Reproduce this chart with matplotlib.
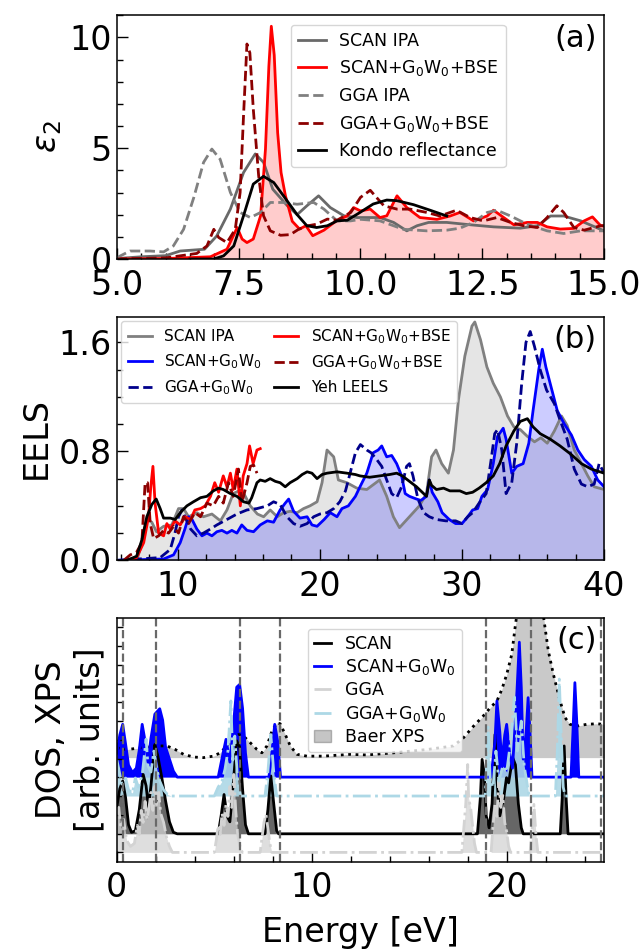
#!/usr/bin/env python3

import matplotlib
matplotlib.use("Agg")
import matplotlib.pyplot as plt
from matplotlib.lines import Line2D
from matplotlib.patches import Patch
from matplotlib.ticker import MultipleLocator

# ---------------- panel (a): eps2 ----------------
a_scan_ipa_x = [5.0, 5.5, 6.0, 6.3, 6.8, 7.05, 7.33, 7.6, 7.84, 8.01, 8.2, 8.5, 8.7, 8.9,
                9.14, 9.38, 9.66, 9.93, 10.2, 10.4, 10.68, 10.95, 11.16, 11.4, 11.77, 12.27,
                12.73, 13.28, 13.63, 13.9, 14.17, 14.52, 15.0]
a_scan_ipa_y = [0.02, 0.1, 0.15, 0.36, 0.44, 1.04, 2.25, 3.9, 4.74, 4.36, 3.15, 2.4, 2.0, 2.4,
                2.85, 2.32, 1.95, 1.87, 1.87, 1.87, 1.65, 1.27, 1.5, 1.65, 1.65, 1.54,
                1.45, 1.39, 1.5, 1.94, 1.94, 1.72, 1.27]

a_scan_bse_x = [5.0, 6.0, 6.92, 7.26, 7.47, 7.57, 7.67, 7.8, 7.95, 8.05, 8.12, 8.17, 8.23,
                8.3, 8.37, 8.46, 8.6, 8.75, 8.88, 9.02, 9.25, 9.49, 9.73, 9.86, 10.0, 10.2,
                10.4, 10.54, 10.75, 10.95, 11.22, 11.57, 11.84, 12.04, 12.32, 12.6, 12.73,
                12.94, 13.15, 13.42, 13.63, 13.83, 14.1, 14.38, 14.59, 14.76, 14.93, 15.0]
a_scan_bse_y = [0.0, 0.02, 0.1, 0.44, 1.42, 0.9, 0.74, 0.9, 1.95, 4.96, 8.7, 10.5, 9.2,
                5.7, 3.9, 2.85, 1.7, 1.35, 1.5, 1.05, 1.3, 1.7, 1.95, 2.32, 2.17, 2.25,
                1.87, 1.95, 2.85, 2.32, 1.87, 1.79, 1.94, 2.1, 1.72, 1.94, 2.2,
                1.87, 1.54, 1.65, 1.65, 1.45, 1.35, 1.38, 1.72, 1.9, 1.5, 1.5]

a_gga_ipa_x = [5.0, 5.27, 5.68, 5.96, 6.16, 6.37, 6.58, 6.78, 6.95, 7.12, 7.33, 7.53, 7.74,
               7.95, 8.15, 8.42, 8.7, 9.04, 9.25, 9.52, 9.8, 10.0, 10.4, 10.88, 11.36, 11.77,
               12.04, 12.32, 12.6, 12.8, 13.08, 13.42, 13.83, 14.17, 14.52, 14.93, 15.0]
a_gga_ipa_y = [0.06, 0.36, 0.36, 0.32, 0.59, 1.34, 2.78, 4.36, 4.96, 4.5, 3.0, 2.1, 1.87,
               2.1, 2.55, 2.55, 2.47, 2.55, 2.25, 1.72, 1.72, 1.79, 1.72, 1.34, 1.27, 1.3,
               1.39, 1.65, 2.1, 2.2, 1.94, 1.57, 1.27, 1.15, 1.27, 1.27, 1.27]

a_gga_bse_x = [5.0, 6.0, 6.64, 6.85, 6.99, 7.09, 7.26, 7.43, 7.53, 7.6, 7.67, 7.73, 7.8,
               7.91, 8.01, 8.15, 8.36, 8.56, 8.73, 8.9, 9.1, 9.32, 9.52, 9.8, 10.0, 10.2,
               10.48, 10.75, 11.02, 11.36, 11.63, 11.97, 12.25, 12.52, 12.8, 13.08, 13.35,
               13.63, 13.83, 14.03, 14.17, 14.38, 14.59, 14.93, 15.0]
a_gga_bse_y = [0.0, 0.05, 0.25, 0.59, 1.34, 0.97, 0.74, 1.34, 3.0, 6.47, 9.7, 9.3, 6.77,
               3.76, 1.95, 1.27, 1.07, 1.1, 1.34, 1.49, 1.57, 1.8, 1.75, 2.1, 2.78, 3.1,
               2.4, 2.25, 2.25, 2.1, 1.94, 2.2, 1.87, 1.72, 1.87, 1.65, 1.5,
               1.42, 1.87, 2.4, 2.1, 1.42, 1.3, 1.5, 1.5]

a_kondo_x = [6.5, 6.99, 7.19, 7.4, 7.6, 7.8, 8.01, 8.22, 8.42, 8.7, 8.9, 9.1, 9.32, 9.52,
             9.73, 9.99, 10.26, 10.54, 10.75, 11.09, 11.43, 11.77]
a_kondo_y = [0.0, 0.0, 0.14, 0.59, 1.95, 3.38, 3.73, 3.45, 2.85, 2.0, 1.5, 1.42, 1.5, 1.72,
             1.75, 2.1, 2.48, 2.66, 2.63, 2.45, 2.2, 1.94]

# ---------------- panel (b): EELS ----------------
b_scan_ipa_x = [5.71, 7.1, 7.35, 7.82, 8.17, 8.5, 9.0, 9.58, 10.05, 10.4, 10.76, 11.34, 11.8,
                12.4, 13.0, 13.46, 13.9, 14.5, 15.1, 15.6, 16.04, 16.5, 17.0, 17.45, 17.9,
                18.4, 18.85, 19.3, 19.8, 20.15, 20.5, 20.97, 21.3, 21.9, 22.6, 23.3, 24.2,
                24.7, 25.17, 25.6, 26.3, 27.0, 27.5, 27.86, 28.17, 28.57, 29.04, 29.4, 29.75,
                30.2, 30.7, 30.9, 31.3, 31.75, 32.2, 32.7, 33.2, 33.65, 34.1, 34.6, 35.1,
                35.55, 36.0, 36.5, 37.0, 37.4, 37.9, 38.4, 38.85, 39.3, 40.0]
b_scan_ipa_y = [0.0, 0.0, 0.08, 0.3, 0.28, 0.21, 0.25, 0.26, 0.38, 0.38, 0.32, 0.35, 0.32,
                0.34, 0.29, 0.37, 0.49, 0.52, 0.4, 0.34, 0.32, 0.37, 0.32, 0.35, 0.36,
                0.35, 0.38, 0.4, 0.43, 0.57, 0.81, 0.76, 0.59, 0.57, 0.53, 0.52, 0.59,
                0.47, 0.32, 0.24, 0.32, 0.4, 0.49, 0.76, 0.81, 0.71, 0.64, 0.81, 1.18,
                1.5, 1.72, 1.75, 1.62, 1.42, 1.3, 1.2, 1.06, 0.98, 0.96, 0.91, 0.87,
                0.9, 0.86, 0.95, 1.06, 0.99, 0.81, 0.71, 0.62, 0.54, 0.52]

b_scan_gw_x = [5.71, 9.0, 9.7, 10.17, 10.5, 10.76, 11.0, 11.34, 11.7, 12.05, 12.4, 12.75,
               13.1, 13.46, 13.8, 14.16, 14.5, 14.87, 15.33, 15.8, 16.3, 16.74, 17.2, 17.56,
               17.8, 18.15, 18.6, 19.1, 19.44, 19.8, 20.3, 20.73, 21.2, 21.55, 22.0, 22.5,
               22.82, 23.3, 23.75, 24.1, 24.35, 24.7, 25.05, 25.4, 25.75, 26.0, 26.3, 26.8,
               27.1, 27.5, 27.7, 27.9, 28.3, 28.6, 29.1, 29.55, 30.0, 30.4, 30.75, 31.1,
               31.4, 31.8, 32.2, 32.5, 32.9, 33.1, 33.5, 33.85, 34.3, 34.7, 35.0, 35.4,
               35.65, 35.9, 36.25, 36.7, 37.2, 37.7, 38.15, 38.6, 39.1, 39.55, 40.0]
b_scan_gw_y = [0.0, 0.01, 0.04, 0.13, 0.23, 0.32, 0.3, 0.23, 0.18, 0.2, 0.18, 0.21,
               0.22, 0.2, 0.22, 0.2, 0.26, 0.22, 0.21, 0.26, 0.29, 0.28, 0.37, 0.42,
               0.45, 0.36, 0.31, 0.32, 0.26, 0.25, 0.3, 0.35, 0.32, 0.38, 0.4, 0.47,
               0.54, 0.64, 0.79, 0.81, 0.84, 0.76, 0.77, 0.71, 0.62, 0.49, 0.47, 0.45,
               0.44, 0.47, 0.59, 0.5, 0.43, 0.35, 0.3, 0.27, 0.27, 0.32, 0.37, 0.38,
               0.47, 0.52, 0.71, 0.91, 0.97, 0.89, 0.64, 0.69, 0.71, 0.86, 1.1, 1.4,
               1.55, 1.42, 1.28, 1.1, 1.0, 0.92, 0.81, 0.74, 0.69, 0.59, 0.54]

b_gga_gw_x = [5.71, 8.76, 9.47, 9.8, 10.05, 10.3, 10.5, 10.9, 11.34, 11.8, 12.3, 12.75,
              13.46, 14.16, 14.87, 15.57, 16.3, 16.74, 17.2, 17.68, 18.15, 18.6, 19.1,
              19.56, 20.0, 20.5, 20.97, 21.4, 21.8, 22.1, 22.5, 22.85, 23.3, 23.6, 24.0,
              24.35, 24.7, 25.05, 25.4, 25.75, 26.1, 26.3, 26.55, 26.9, 27.3, 27.7, 28.2,
              28.85, 29.55, 30.0, 30.4, 30.75, 31.2, 31.7, 32.05, 32.3, 32.5, 32.8, 33.1,
              33.5, 33.85, 34.2, 34.5, 34.8, 35.1, 35.5, 35.95, 36.5, 36.9, 37.4, 37.9,
              38.4, 38.85, 39.3, 39.65, 40.0]
b_gga_gw_y = [0.0, 0.02, 0.08, 0.2, 0.32, 0.37, 0.32, 0.23, 0.18, 0.2, 0.23, 0.26,
              0.3, 0.34, 0.37, 0.38, 0.4, 0.43, 0.41, 0.32, 0.27, 0.25, 0.27,
              0.32, 0.34, 0.35, 0.38, 0.43, 0.51, 0.63, 0.79, 0.85, 0.81, 0.79, 0.74,
              0.69, 0.59, 0.49, 0.46, 0.54, 0.69, 0.71, 0.62, 0.45, 0.35, 0.32, 0.3,
              0.29, 0.29, 0.27, 0.32, 0.35, 0.42, 0.49, 0.74, 0.93, 0.96, 0.81, 0.49,
              0.57, 0.86, 1.3, 1.6, 1.68, 1.57, 1.4, 1.25, 1.15, 1.03, 0.89, 0.67,
              0.56, 0.54, 0.56, 0.71, 0.64]

b_scan_bse_x = [6.65, 7.1, 7.6, 7.94, 8.1, 8.25, 8.4, 8.65, 9.0, 9.23, 9.47, 9.8, 10.17,
                10.5, 10.9, 11.2, 11.6, 11.93, 12.3, 12.6, 12.87, 13.2, 13.46, 13.7, 13.9,
                14.16, 14.4, 14.6, 14.87, 15.05, 15.3, 15.57, 15.8]
b_scan_bse_y = [0.0, 0.02, 0.13, 0.32, 0.54, 0.69, 0.42, 0.2, 0.18, 0.27, 0.23, 0.29, 0.26,
                0.32, 0.3, 0.37, 0.38, 0.4, 0.47, 0.57, 0.5, 0.62, 0.54, 0.64, 0.52,
                0.67, 0.4, 0.62, 0.71, 0.84, 0.71, 0.81, 0.82]

b_gga_bse_x = [6.2, 6.65, 7.1, 7.47, 7.7, 7.87, 8.06, 8.3, 8.65, 9.0, 9.35, 9.7, 10.05,
               10.4, 10.76, 11.2, 11.6, 12.05, 12.5, 12.87, 13.2, 13.57, 13.9, 14.27, 14.5,
               14.87, 15.1, 15.33, 15.57]
b_gga_bse_y = [0.0, 0.04, 0.06, 0.13, 0.57, 0.57, 0.27, 0.16, 0.18, 0.22, 0.2, 0.25, 0.2,
               0.32, 0.27, 0.35, 0.32, 0.42, 0.4, 0.47, 0.42, 0.57, 0.47, 0.67, 0.42,
               0.57, 0.69, 0.7, 0.64]

b_yeh_x = [6.4, 7.1, 7.47, 7.82, 8.17, 8.48, 8.76, 9.0, 9.47, 9.82, 10.17, 10.64, 11.1,
           11.6, 12.05, 12.5, 12.87, 13.2, 13.7, 14.16, 14.63, 15.0, 15.2, 15.57, 15.8,
           16.15, 16.5, 16.86, 17.2, 17.56, 17.9, 18.4, 18.75, 19.1, 19.44, 19.8, 20.15,
           20.5, 21.2, 21.9, 22.5, 22.82, 23.5, 24.2, 24.9, 25.4, 25.8, 26.3, 26.8, 27.3,
           27.5, 27.7, 27.86, 28.2, 28.7, 29.15, 29.85, 30.3, 30.75, 31.2, 31.7, 32.2,
           32.65, 33.1, 33.65, 34.1, 34.6, 35.0, 35.5, 36.2, 36.9, 37.65, 38.4, 39.1, 40.0]
b_yeh_y = [0.0, 0.03, 0.15, 0.32, 0.41, 0.45, 0.38, 0.31, 0.31, 0.3, 0.35, 0.4, 0.43,
           0.46, 0.47, 0.51, 0.53, 0.52, 0.49, 0.47, 0.43, 0.42, 0.46, 0.57, 0.59,
           0.58, 0.6, 0.58, 0.57, 0.54, 0.57, 0.6, 0.63, 0.65, 0.64, 0.6, 0.63,
           0.64, 0.65, 0.64, 0.63, 0.62, 0.61, 0.62, 0.63, 0.64, 0.62, 0.58, 0.54, 0.49,
           0.47, 0.59, 0.55, 0.52, 0.53, 0.51, 0.51, 0.49, 0.5, 0.53, 0.57, 0.62,
           0.71, 0.84, 0.95, 1.02, 1.04, 0.98, 0.93, 0.89, 0.84, 0.78, 0.71, 0.67, 0.64]

# ---------------- panel (c): DOS / XPS (heights above each curve's own baseline) ----
c_xps_x = [0, 0.51, 1.03, 1.54, 2.05, 2.57, 3.0, 3.42, 3.94, 4.45, 4.96, 5.3, 5.65, 5.99,
           6.25, 6.5, 6.84, 7.19, 7.44, 7.7, 7.96, 8.21, 8.38, 8.64, 8.9, 9.24, 9.75, 10.6,
           11.98, 12.83, 14.19, 15.9, 17.27, 17.78, 18.3, 18.8, 19.15, 19.5, 19.75, 20.0,
           20.26, 20.43, 20.6, 20.9, 21.2, 21.5, 21.8, 21.97, 22.14, 22.4, 22.74, 23.0,
           23.25, 23.6, 24.1, 24.6, 25.0]
c_xps_y = [0.33, 0.27, 0.31, 0.35, 0.39, 0.39, 0.27, 0.11, 0.02, 0.0, 0.05, 0.16, 0.39, 0.66,
           0.77, 0.72, 0.5, 0.27, 0.16, 0.39, 0.89, 1.16, 1.13, 0.77, 0.39, 0.11, 0.05, 0.05,
           0.11, 0.09, 0.16, 0.27, 0.39, 0.66, 1.05, 1.39, 1.66, 1.89, 2.27, 2.77,
           3.44, 4.33, 5.13, 6.1, 6.5, 6.1, 5.13, 4.33, 3.55, 2.77, 1.89, 1.33,
           1.11, 1.05, 1.11, 1.13, 1.11]

c_scan_gw_x = [0.0, 0.15, 0.3, 0.45, 0.6, 0.8, 1.0, 1.15, 1.3, 1.45, 1.6, 1.75, 1.95, 2.2,
               2.35, 2.5, 2.7, 2.9, 3.1, 5.2, 5.45, 5.6, 5.8, 5.95, 6.15, 6.3, 6.45, 6.6,
               6.75, 7.8, 7.95, 8.1, 8.25, 8.4, 19.2, 19.4, 19.5, 19.65, 19.75, 19.9, 20.0,
               20.15, 20.3, 20.5, 20.65, 20.75, 20.85, 21.0, 21.1, 21.2, 21.3, 23.3, 23.4,
               23.5, 23.6, 23.7, 25.0]
c_scan_gw_y = [0.8, 1.4, 1.76, 1.1, 0.4, 0.15, 0.3, 0.9, 1.76, 1.2, 0.5, 1.3, 2.1, 2.28,
               1.9, 1.0, 0.6, 0.2, 0.0, 0.0, 0.8, 1.26, 0.5, 1.5, 3.0, 3.09, 2.3, 0.8,
               0.0, 0.0, 0.8, 1.76, 1.2, 0.0, 0.0, 1.2, 2.54, 1.5, 0.5, 1.4, 1.76,
               0.8, 0.3, 2.5, 4.5, 3.0, 0.6, 1.5, 2.65, 1.5, 0.0, 0.0, 1.5,
               3.15, 1.8, 0.0, 0.0]

c_gga_gw_x = [0.0, 0.1, 0.25, 0.45, 0.6, 0.8, 0.95, 1.1, 1.3, 1.5, 1.6, 1.75, 1.9, 2.05,
              2.2, 2.4, 2.6, 2.8, 5.0, 5.2, 5.4, 5.55, 5.7, 5.85, 5.95, 6.05, 6.2, 6.35,
              7.6, 7.75, 7.9, 8.05, 8.2, 18.9, 19.05, 19.15, 19.3, 19.45, 19.6, 19.8, 20.0,
              20.2, 20.4, 20.55, 20.75, 20.9, 21.05, 21.15, 22.5, 22.6, 22.7, 22.8, 22.9,
              23.0, 25.0]
c_gga_gw_y = [1.2, 0.9, 0.4, 0.6, 0.2, 0.1, 0.6, 0.3, 0.7, 1.9, 1.0, 0.8, 1.5, 0.9,
              0.5, 0.2, 0.05, 0.0, 0.0, 0.3, 0.5, 0.9, 1.5, 3.17, 1.2, 2.0, 0.5, 0.0,
              0.0, 0.8, 2.05, 0.8, 0.0, 0.0, 2.3, 0.6, 0.3, 1.5, 0.5, 1.0, 0.8,
              1.8, 3.3, 1.5, 2.5, 1.0, 0.4, 0.0, 0.0, 1.5, 3.9, 2.0, 0.3,
              0.0, 0.0]

c_scan_x = [0.0, 0.15, 0.3, 0.45, 0.6, 0.75, 0.95, 1.15, 1.35, 1.5, 1.62, 1.75, 1.95, 2.1,
            2.3, 2.5, 2.7, 2.9, 3.1, 5.2, 5.35, 5.5, 5.65, 5.8, 5.95, 6.15, 6.3, 6.45, 6.6,
            6.75, 7.6, 7.75, 7.9, 8.05, 8.2, 8.3, 18.5, 18.65, 18.74, 18.85, 18.95, 19.1,
            19.25, 19.4, 19.5, 19.65, 19.85, 19.99, 20.1, 20.31, 20.45, 20.6, 20.75, 20.85,
            22.75, 22.85, 22.95, 23.05, 23.15, 25.0]
c_scan_y = [0.9, 1.5, 1.76, 1.2, 0.3, 0.05, 0.1, 0.8, 1.98, 1.6, 0.9, 1.6, 2.98, 2.6,
            1.9, 1.1, 0.4, 0.05, 0.0, 0.0, 0.6, 1.31, 0.6, 0.4, 1.5, 3.1, 2.9, 1.5, 0.3,
            0.0, 0.0, 0.8, 1.93, 1.0, 0.1, 0.0, 0.0, 1.2, 2.48, 2.0, 0.6, 0.2,
            1.0, 3.31, 1.8, 0.6, 1.2, 1.87, 1.7, 2.54, 2.3, 1.0, 0.2, 0.0,
            0.0, 1.2, 2.93, 1.2, 0.0, 0.0]

c_gga_x = [0.0, 0.1, 0.2, 0.35, 0.5, 0.7, 0.9, 1.05, 1.15, 1.25, 1.35, 1.45, 1.55, 1.65,
           1.75, 1.85, 1.95, 2.05, 2.15, 2.25, 2.4, 2.55, 2.7, 2.85, 5.0, 5.1, 5.2, 5.3,
           5.4, 5.5, 5.6, 5.7, 5.8, 5.9, 6.0, 6.1, 6.2, 6.35, 6.45, 7.35, 7.45, 7.55,
           7.65, 7.75, 7.85, 7.95, 17.7, 17.8, 17.9, 18.0, 18.05, 18.15, 18.25, 18.35,
           18.45, 19.2, 19.3, 19.4, 19.5, 19.6, 19.7, 19.8, 19.9, 20.0, 20.1, 20.2, 21.2,
           21.3, 21.4, 21.5, 21.6, 25.0]
c_gga_y = [1.3, 1.5, 0.8, 1.1, 0.4, 0.2, 0.3, 0.9, 0.6, 1.4, 1.0, 1.7, 1.1, 1.5,
           2.0, 1.4, 2.2, 1.6, 2.0, 1.3, 1.0, 0.5, 0.2, 0.0, 0.0, 0.4, 0.9, 0.6,
           1.3, 0.9, 1.6, 1.2, 2.2, 1.5, 2.6, 1.4, 0.6, 0.1, 0.0, 0.0, 0.5, 1.0,
           1.27, 0.8, 0.3, 0.0, 0.0, 0.8, 1.6, 2.93, 1.8, 1.5, 0.9, 0.3,
           0.0, 0.0, 0.9, 1.6, 1.2, 2.4, 1.5, 1.9, 1.0, 0.7, 0.2, 0.0, 0.0,
           0.7, 1.6, 0.6, 0.0, 0.0]

c_exp_lines = [0.32, 2.0, 6.33, 8.38, 18.94, 21.27, 24.83]


def style_axis(ax):
    for s in ax.spines.values():
        s.set_linewidth(1.1)
    ax.tick_params(which="both", direction="in", labelsize=24, width=1)
    ax.tick_params(which="major", length=8)
    ax.tick_params(which="minor", length=4)
    ax.tick_params(axis="x", which="major", pad=7)


def main():
    fig, (ax1, ax2, ax3) = plt.subplots(3, 1, figsize=(6.42, 9.49), dpi=100)
    fig.subplots_adjust(left=0.182, right=0.941, top=0.984, bottom=0.092, hspace=0.236)

    # ---- (a) ----
    ax1.fill_between(a_scan_bse_x, 0, a_scan_bse_y, color="red", alpha=0.2, lw=0)
    ax1.plot(a_scan_ipa_x, a_scan_ipa_y, color="dimgray", lw=2, label="SCAN IPA")
    ax1.plot(a_scan_bse_x, a_scan_bse_y, color="red", lw=2, label="SCAN+G$_0$W$_0$+BSE")
    ax1.plot(a_gga_ipa_x, a_gga_ipa_y, color="gray", lw=2, ls="--", label="GGA IPA")
    ax1.plot(a_gga_bse_x, a_gga_bse_y, color="darkred", lw=2, ls="--",
             label="GGA+G$_0$W$_0$+BSE")
    ax1.plot(a_kondo_x, a_kondo_y, color="black", lw=2, label="Kondo reflectance")
    ax1.set_xlim(5, 15)
    ax1.set_ylim(0, 11)
    ax1.xaxis.set_major_locator(MultipleLocator(2.5))
    ax1.xaxis.set_minor_locator(MultipleLocator(0.5))
    ax1.yaxis.set_major_locator(MultipleLocator(5))
    ax1.yaxis.set_minor_locator(MultipleLocator(1))
    ax1.set_ylabel(r"$\varepsilon_2$", fontsize=24)
    style_axis(ax1)
    ax1.legend(loc="upper left", bbox_to_anchor=(0.35, 0.975), fontsize=12.5,
               handlelength=1.6, borderaxespad=0.2)
    ax1.text(0.985, 0.965, "(a)", transform=ax1.transAxes, ha="right", va="top",
             fontsize=22)

    # ---- (b) ----
    ax2.fill_between(b_scan_ipa_x, 0, b_scan_ipa_y, color="gray", alpha=0.2, lw=0)
    ax2.fill_between(b_scan_gw_x, 0, b_scan_gw_y, color="blue", alpha=0.2, lw=0)
    l1, = ax2.plot(b_scan_ipa_x, b_scan_ipa_y, color="gray", lw=2, label="SCAN IPA")
    l2, = ax2.plot(b_scan_gw_x, b_scan_gw_y, color="blue", lw=2, label="SCAN+G$_0$W$_0$")
    l3, = ax2.plot(b_gga_gw_x, b_gga_gw_y, color="darkblue", lw=2, ls="--",
                   label="GGA+G$_0$W$_0$")
    l4, = ax2.plot(b_scan_bse_x, b_scan_bse_y, color="red", lw=2,
                   label="SCAN+G$_0$W$_0$+BSE")
    l5, = ax2.plot(b_gga_bse_x, b_gga_bse_y, color="darkred", lw=2, ls="--",
                   label="GGA+G$_0$W$_0$+BSE")
    l6, = ax2.plot(b_yeh_x, b_yeh_y, color="black", lw=2, label="Yeh LEELS")
    ax2.set_xlim(5.71, 40)
    ax2.set_ylim(0, 1.79)
    ax2.xaxis.set_major_locator(MultipleLocator(10))
    ax2.xaxis.set_minor_locator(MultipleLocator(2))
    ax2.yaxis.set_major_locator(MultipleLocator(0.8))
    ax2.yaxis.set_minor_locator(MultipleLocator(0.2))
    ax2.set_ylabel("EELS", fontsize=24)
    style_axis(ax2)
    ax2.legend(handles=[l1, l2, l3, l4, l5, l6], loc="upper left", ncol=2, fontsize=11,
               handlelength=1.6, columnspacing=0.8, borderaxespad=0.3)
    ax2.text(0.985, 0.965, "(b)", transform=ax2.transAxes, ha="right", va="top",
             fontsize=22)

    # ---- (c) ----
    off_xps, off_sgw, off_ggw, off_scan, off_gga = 3.47, 2.82, 2.19, 0.93, 0.31
    ax3.fill_between(c_xps_x, off_xps, [off_xps + v for v in c_xps_y],
                     color="gray", alpha=0.42, lw=0)
    ax3.plot(c_xps_x, [off_xps + v for v in c_xps_y], color="black", lw=2, ls=":")

    ax3.fill_between(c_scan_x, off_scan, [off_scan + v for v in c_scan_y],
                     color="black", alpha=0.6, lw=0)
    ax3.plot(c_scan_x, [off_scan + v for v in c_scan_y], color="black", lw=2)

    ax3.fill_between(c_scan_gw_x, off_sgw, [off_sgw + v for v in c_scan_gw_y],
                     color="blue", lw=0)
    ax3.plot(c_scan_gw_x, [off_sgw + v for v in c_scan_gw_y], color="blue", lw=2)

    ax3.fill_between(c_gga_x, off_gga, [off_gga + v for v in c_gga_y],
                     color="lightgray", alpha=0.75, lw=0)
    ax3.plot(c_gga_x, [off_gga + v for v in c_gga_y], color="lightgray", lw=2, ls="-.")

    ax3.fill_between(c_gga_gw_x, off_ggw, [off_ggw + v for v in c_gga_gw_y],
                     color="lightblue", alpha=0.9, lw=0)
    ax3.plot(c_gga_gw_x, [off_ggw + v for v in c_gga_gw_y], color="lightblue", lw=2,
             ls="-.")

    for xv in c_exp_lines:
        ax3.axvline(xv, color="dimgray", ls="--", lw=1.6)

    ax3.set_xlim(0, 25)
    ax3.set_ylim(0, 8.13)
    ax3.xaxis.set_major_locator(MultipleLocator(10))
    ax3.xaxis.set_minor_locator(MultipleLocator(2))
    ax3.set_yticks([off_gga + 0.625 * k for k in range(13)])
    ax3.set_yticklabels([])
    ax3.set_xlabel("Energy [eV]", fontsize=24, labelpad=8)
    ax3.set_ylabel("DOS, XPS\n[arb. units]", fontsize=24)
    style_axis(ax3)
    ax3.tick_params(axis="y", which="major", length=4)

    handles = [
        Line2D([], [], color="black", lw=2),
        Line2D([], [], color="blue", lw=2),
        Line2D([], [], color="lightgray", lw=2, ls="-."),
        Line2D([], [], color="lightblue", lw=2, ls="-."),
        Patch(facecolor="gray", alpha=0.45, edgecolor="dimgray"),
    ]
    labels = ["SCAN", "SCAN+G$_0$W$_0$", "GGA", "GGA+G$_0$W$_0$", "Baer XPS"]
    ax3.legend(handles, labels, loc="upper left", bbox_to_anchor=(0.385, 0.97),
               fontsize=12.5, handlelength=1.0, labelspacing=0.25, borderpad=0.35,
               borderaxespad=0.2)
    ax3.text(0.985, 0.965, "(c)", transform=ax3.transAxes, ha="right", va="top",
             fontsize=22)

    fig.savefig("out.png", dpi=100)
    plt.close(fig)


if __name__ == "__main__":
    main()
